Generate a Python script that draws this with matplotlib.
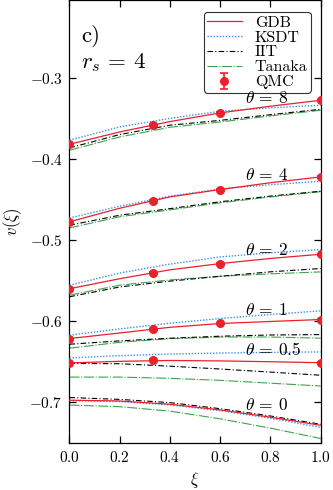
import numpy as np
import matplotlib.pyplot as plt
from matplotlib.ticker import FuncFormatter, MultipleLocator

plt.rcParams['font.family'] = 'serif'
plt.rcParams['font.serif'] = ['cmr10', 'DejaVu Serif']
plt.rcParams['mathtext.fontset'] = 'cm'
plt.rcParams['axes.unicode_minus'] = False

# curve grid (spin polarization xi)
xi = [0.0, 0.2, 0.4, 0.6, 0.8, 1.0]
thetas = ['8', '4', '2', '1', '0.5', '0']

gdb = {
    '8':   [-0.3815, -0.3663, -0.3535, -0.3428, -0.3345, -0.3272],
    '4':   [-0.4772, -0.4605, -0.4465, -0.4374, -0.4290, -0.4218],
    '2':   [-0.5599, -0.5475, -0.5365, -0.5288, -0.5225, -0.5173],
    '1':   [-0.6214, -0.6145, -0.6075, -0.6028, -0.6003, -0.5979],
    '0.5': [-0.6515, -0.6495, -0.6485, -0.6490, -0.6500, -0.6512],
    '0':   [-0.6975, -0.6985, -0.7025, -0.7095, -0.7185, -0.7285],
}
ksdt = {
    '8':   [-0.3765, -0.3601, -0.3495, -0.3407, -0.3365, -0.3333],
    '4':   [-0.4725, -0.4580, -0.4455, -0.4366, -0.4315, -0.4272],
    '2':   [-0.5556, -0.5405, -0.5295, -0.5206, -0.5155, -0.5115],
    '1':   [-0.6173, -0.6095, -0.6025, -0.5967, -0.5917, -0.5872],
    '0.5': [-0.6453, -0.6425, -0.6405, -0.6393, -0.6385, -0.6379],
    '0':   [-0.6980, -0.6992, -0.7033, -0.7105, -0.7198, -0.7310],
}
iit = {
    '8':   [-0.3860, -0.3695, -0.3580, -0.3520, -0.3450, -0.3383],
    '4':   [-0.4815, -0.4691, -0.4610, -0.4525, -0.4455, -0.4395],
    '2':   [-0.5698, -0.5577, -0.5505, -0.5445, -0.5390, -0.5349],
    '1':   [-0.6284, -0.6243, -0.6210, -0.6185, -0.6170, -0.6165],
    '0.5': [-0.6520, -0.6525, -0.6555, -0.6590, -0.6628, -0.6667],
    '0':   [-0.6942, -0.6965, -0.7005, -0.7080, -0.7170, -0.7272],
}
tanaka = {
    '8':   [-0.3889, -0.3725, -0.3605, -0.3540, -0.3465, -0.3395],
    '4':   [-0.4848, -0.4710, -0.4625, -0.4538, -0.4465, -0.4400],
    '2':   [-0.5679, -0.5555, -0.5490, -0.5445, -0.5415, -0.5391],
    '1':   [-0.6333, -0.6260, -0.6215, -0.6195, -0.6195, -0.6209],
    '0.5': [-0.6690, -0.6690, -0.6705, -0.6730, -0.6765, -0.6800],
    '0':   [-0.7035, -0.7055, -0.7110, -0.7205, -0.7320, -0.7448],
}

# QMC data points
qmc_xi = {
    '8': [0.0, 1/3, 0.6, 1.0],
    '4': [0.0, 1/3, 0.6, 1.0],
    '2': [0.0, 1/3, 0.6, 1.0],
    '1': [0.0, 1/3, 0.6, 1.0],
    '0.5': [0.0, 1/3, 1.0],
}
qmc_v = {
    '8': [-0.3815, -0.3572, -0.3428, -0.3272],
    '4': [-0.4772, -0.4515, -0.4374, -0.4218],
    '2': [-0.5599, -0.5404, -0.5288, -0.5173],
    '1': [-0.6214, -0.6099, -0.6028, -0.5979],
    '0.5': [-0.6515, -0.6476, -0.6515],
}
qmc_err = 0.0006

RED = '#e8212b'
BLUE = '#3b8ff0'
GREEN = '#3fa34d'

fig = plt.figure(figsize=(3.33, 4.9), dpi=100)
ax = fig.add_axes([0.2087, 0.0965, 0.963 - 0.2087, 0.999 - 0.0965])

for i, t in enumerate(thetas):
    first = (i == 0)
    ax.plot(xi, gdb[t], color=RED, lw=0.9, zorder=4, label='GDB' if first else None)
    ax.plot(xi, ksdt[t], color=BLUE, lw=1.0, ls=(0, (1, 1.2)), zorder=3,
            label='KSDT' if first else None)
    ax.plot(xi, iit[t], color='black', lw=0.8, ls=(0, (5, 2, 1, 2)), zorder=3,
            label='IIT' if first else None)
    ax.plot(xi, tanaka[t], color=GREEN, lw=0.8, ls=(0, (9, 1.5, 1, 1.5)), zorder=2,
            label='Tanaka' if first else None)

for i, t in enumerate(qmc_xi):
    ax.errorbar(qmc_xi[t], qmc_v[t], yerr=qmc_err, fmt='o', color=RED, ms=5.5,
                capsize=3, elinewidth=1.2, capthick=1.2, zorder=5,
                label='QMC' if i == 0 else None)

# theta labels
label_pos = {'8': -0.3247, '4': -0.4198, '2': -0.5115, '1': -0.5864,
             '0.5': -0.6346, '0': -0.7037}
for t in thetas:
    ax.text(0.697, label_pos[t], r'$\theta$ = %s' % t, fontsize=12.5,
            ha='left', va='center', zorder=6)

ax.text(0.047, -0.2550, 'c)', fontsize=16.5, ha='left', va='baseline')
ax.text(0.047, -0.2870, r'$r_s$ = 4', fontsize=16.5, ha='left', va='baseline')

ax.set_xlim(0, 1)
ax.set_ylim(-0.75, -0.204)
ax.xaxis.set_major_locator(MultipleLocator(0.2))
ax.yaxis.set_major_locator(MultipleLocator(0.1))
ax.xaxis.set_major_formatter(FuncFormatter(lambda v, p: r'$%.1f$' % v))
ax.yaxis.set_major_formatter(FuncFormatter(lambda v, p: r'$%.1f$' % v))
ax.tick_params(direction='in', top=True, right=True, length=5, width=0.9,
               labelsize=11, pad=5)
for s in ax.spines.values():
    s.set_linewidth(0.9)

ax.set_xlabel(r'$\xi$', fontsize=12)
ax.set_ylabel(r'$v(\xi)$', fontsize=12)

leg = ax.legend(loc='upper right', bbox_to_anchor=(0.960, 0.9736), borderaxespad=0,
                fontsize=11.5, labelspacing=0.05, handlelength=2.2, handletextpad=0.8,
                borderpad=0.2, fancybox=True, framealpha=1, edgecolor='#333333')
leg.get_frame().set_linewidth(0.8)

fig.savefig('out.png', dpi=100)
